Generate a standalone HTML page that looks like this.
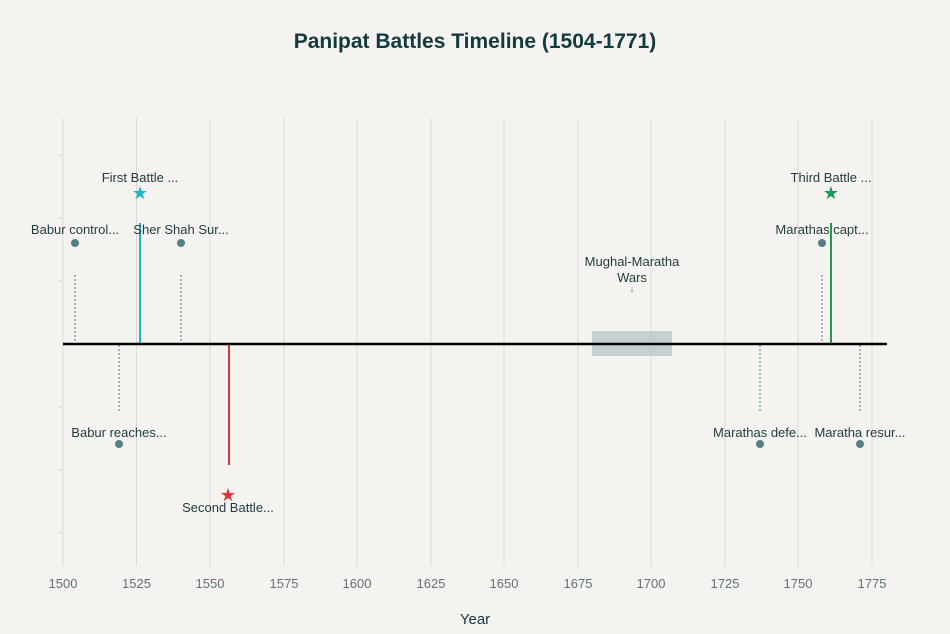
<!DOCTYPE html>
<html><head><meta charset="utf-8"><style>
html,body{margin:0;padding:0;background:#f4f3ef;}
svg{display:block;font-family:"Liberation Sans",sans-serif;}
</style></head><body>
<svg width="950" height="634" viewBox="0 0 950 634">
<rect width="950" height="634" fill="#f4f3ef"/>
<text x="475" y="48" text-anchor="middle" font-size="21" font-weight="bold" fill="#133a3f">Panipat Battles Timeline (1504-1771)</text>
<g stroke="#d8d8d5" stroke-width="1">
<line x1="63" y1="118" x2="63" y2="566"/><line x1="136.5" y1="118" x2="136.5" y2="566"/>
<line x1="210" y1="118" x2="210" y2="566"/><line x1="284" y1="118" x2="284" y2="566"/>
<line x1="357" y1="118" x2="357" y2="566"/><line x1="431" y1="118" x2="431" y2="566"/>
<line x1="504" y1="118" x2="504" y2="566"/><line x1="578" y1="118" x2="578" y2="566"/>
<line x1="651" y1="118" x2="651" y2="566"/><line x1="725" y1="118" x2="725" y2="566"/>
<line x1="798" y1="118" x2="798" y2="566"/><line x1="872" y1="118" x2="872" y2="566"/>
</g>
<g stroke="#cfcfcb"><line x1="59" y1="155" x2="62" y2="155"/><line x1="59" y1="218" x2="62" y2="218"/><line x1="59" y1="281" x2="62" y2="281"/><line x1="59" y1="407" x2="62" y2="407"/><line x1="59" y1="470" x2="62" y2="470"/><line x1="59" y1="533" x2="62" y2="533"/></g>
<g font-size="13" fill="#5e7376" text-anchor="middle">
<text x="63" y="588">1500</text><text x="136.5" y="588">1525</text><text x="210" y="588">1550</text><text x="284" y="588">1575</text><text x="357" y="588">1600</text><text x="431" y="588">1625</text><text x="504" y="588">1650</text><text x="578" y="588">1675</text><text x="651" y="588">1700</text><text x="725" y="588">1725</text><text x="798" y="588">1750</text><text x="872" y="588">1775</text>
</g>
<text x="475" y="624" text-anchor="middle" font-size="15" fill="#133a3f">Year</text>
<rect x="592" y="331" width="80" height="25" fill="#b7c8c9" opacity="0.8"/>
<g stroke="#6d8a8e" stroke-width="1.2" stroke-dasharray="2,2">
<line x1="75" y1="275" x2="75" y2="343"/><line x1="181" y1="275" x2="181" y2="343"/>
<line x1="822" y1="275" x2="822" y2="343"/><line x1="119" y1="345" x2="119" y2="413"/>
<line x1="760" y1="345" x2="760" y2="413"/><line x1="860" y1="345" x2="860" y2="413"/>
</g>
<line x1="140" y1="223" x2="140" y2="344" stroke="#1fb3cc" stroke-width="2"/>
<line x1="229" y1="344" x2="229" y2="465" stroke="#e0333a" stroke-width="2"/>
<line x1="831" y1="223" x2="831" y2="344" stroke="#1e9a55" stroke-width="2"/>
<line x1="63" y1="344" x2="887" y2="344" stroke="#000" stroke-width="2.5"/>
<g fill="#537f89"><circle cx="75" cy="243" r="4"/><circle cx="181" cy="243" r="4"/><circle cx="822" cy="243" r="4"/><circle cx="119" cy="444" r="4"/><circle cx="760" cy="444" r="4"/><circle cx="860" cy="444" r="4"/></g>
<g font-size="18" text-anchor="middle">
<text x="140" y="199" fill="#1fb3cc">★</text>
<text x="228" y="501" fill="#e0333a">★</text>
<text x="831" y="199" fill="#1e9a55">★</text>
</g>
<text x="632" y="292" font-size="9" fill="#537f89" text-anchor="middle">↓</text>
<g font-size="13" fill="#1f3b40" text-anchor="middle">
<text x="140" y="182">First Battle ...</text>
<text x="75" y="234">Babur control...</text>
<text x="181" y="234">Sher Shah Sur...</text>
<text x="119" y="437">Babur reaches...</text>
<text x="228" y="512">Second Battle...</text>
<text x="632" y="266">Mughal-Maratha</text>
<text x="632" y="282">Wars</text>
<text x="831" y="182">Third Battle ...</text>
<text x="822" y="234">Marathas capt...</text>
<text x="760" y="437">Marathas defe...</text>
<text x="860" y="437">Maratha resur...</text>
</g>
</svg>
</body></html>
